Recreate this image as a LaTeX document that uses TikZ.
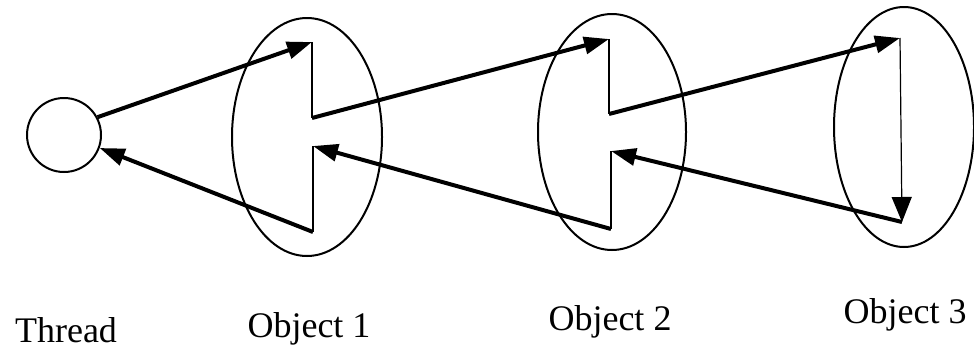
\documentclass[tikz,border=0pt]{standalone}
\usepackage{fontspec}
\setmainfont{Liberation Serif}
\usetikzlibrary{shapes.geometric,arrows.meta}

\tikzset{
	objshape/.style={draw, ellipse, line width=1pt, inner sep=0pt},
	link/.style={line width=2pt, -{Triangle[length=12.5pt,width=8.5pt]}},
	rung/.style={line width=1.2pt},
	tag/.style={anchor=base, font=\fontsize{18}{20}\selectfont}
}

\begin{document}
\begin{tikzpicture}[x=0.5pt,y=-0.5pt]
		\useasboundingbox (0,0) rectangle (974,354);
		
		% Thread and objects
		\node[draw, circle, line width=1pt, minimum size=37pt, inner sep=0pt] (thread) at (64,135) {};
		\node[objshape, minimum width=75pt, minimum height=119pt] (obj1) at (307,137) {};
		\node[objshape, minimum width=74pt, minimum height=118pt] (obj2) at (612,132) {};
		\node[objshape, minimum width=70pt, minimum height=120pt] (obj3) at (904,127) {};
		
		% Corner points
		\coordinate (o1top) at (312,42);
		\coordinate (o1mid) at (312,118);
		\coordinate (o1low) at (313,146);
		\coordinate (o1bot) at (313,232);
		\coordinate (o2top) at (609,39);
		\coordinate (o2mid) at (609,114);
		\coordinate (o2low) at (611,151);
		\coordinate (o2bot) at (611,229);
		\coordinate (o3top) at (900,38);
		\coordinate (o3bot) at (902,222);
		
		% Calls
		\draw[link] (thread.28) -- (o1top);
		\draw[rung] (o1top) -- (o1mid);
		\draw[link] (o1mid) -- (o2top);
		\draw[rung] (o2top) -- (o2mid);
		\draw[link] (o2mid) -- (o3top);
		\draw[line width=0.6pt, -{Triangle[length=12.5pt,width=10pt]}] (o3top) -- (o3bot);
		
		% Returns
		\draw[link] (o3bot) -- (o2low);
		\draw[rung] (o2low) -- (o2bot);
		\draw[link] (o2bot) -- (o1low);
		\draw[rung] (o1low) -- (o1bot);
		\draw[link] (o1bot) -- (thread.-20);
		
		% Labels
		\node[tag] (threadlabel) at (66,342) {Thread};
		\node[tag] (obj1label) at (309,337) {Object 1};
		\node[tag] (obj2label) at (610,330) {Object 2};
		\node[tag] (obj3label) at (905,323) {Object 3};
		
\end{tikzpicture}
\end{document}
